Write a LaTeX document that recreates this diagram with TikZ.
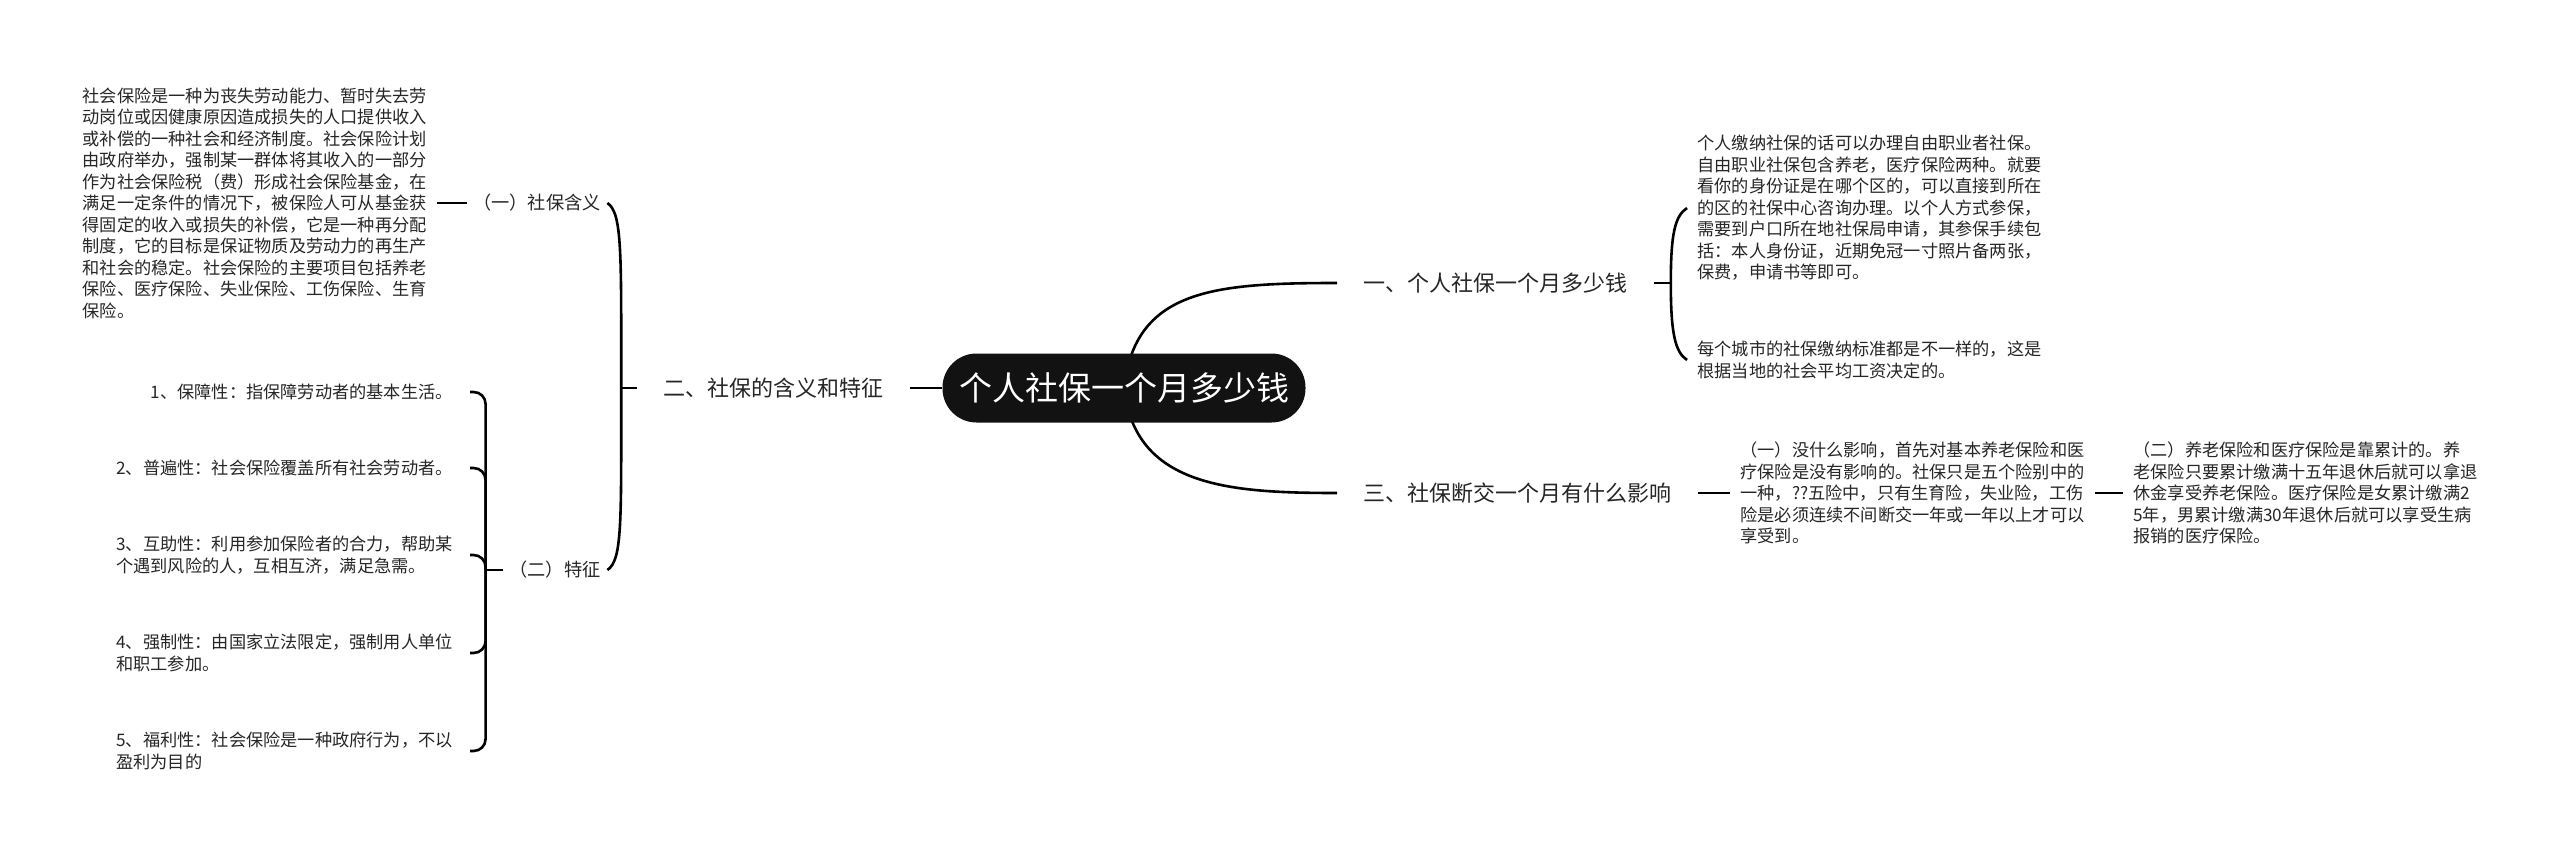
\documentclass[tikz,border=0pt]{standalone}
\usepackage{fontspec}
\setmainfont{Noto Sans CJK SC}
\usetikzlibrary{backgrounds}

\begin{document}
\begin{tikzpicture}[
  x=0.5pt, y=-0.5pt,
  every node/.style={inner sep=0pt, text=black!85},
  conn/.style={draw=black, line width=1.3pt},
  rootbox/.style={fill=black!93, text=white, rounded corners=17pt,
    minimum width=181.5pt, minimum height=34.5pt,
    font=\fontsize{16.5pt}{20pt}\selectfont},
  branchtxt/.style={inner xsep=13pt, inner ysep=4pt, font=\fontsize{11pt}{13pt}\selectfont},
  subtxt/.style={inner ysep=3pt, font=\fontsize{9.1pt}{11pt}\selectfont},
  parabox/.style={align=left, inner xsep=5pt, inner ysep=3pt, font=\fontsize{8.6pt}{10.75pt}\selectfont},
  itembox/.style={parabox, inner xsep=8.5pt}
]
\useasboundingbox (0,0) rectangle (2560,856);

% centre and the three branches
\node[rootbox] (root) at (1124,388) {个人社保一个月多少钱};
\node[branchtxt, anchor=east] (b2) at (910,388) {二、社保的含义和特征};
\node[branchtxt, anchor=west] (b1) at (1337,283) {一、个人社保一个月多少钱};
\node[branchtxt, anchor=west] (b3) at (1337,493) {三、社保断交一个月有什么影响};

% left side
\node[subtxt, minimum width=70pt] (s1) at (537,203) {（一）社保含义};
\node[subtxt, minimum width=52pt] (s2) at (555,570) {（二）特征};
\node[parabox, anchor=east] (d1) at (437,203) {社会保险是一种为丧失劳动能力、暂时失去劳\\
  动岗位或因健康原因造成损失的人口提供收入\\
  或补偿的一种社会和经济制度。社会保险计划\\
  由政府举办，强制某一群体将其收入的一部分\\
  作为社会保险税（费）形成社会保险基金，在\\
  满足一定条件的情况下，被保险人可从基金获\\
  得固定的收入或损失的补偿，它是一种再分配\\
  制度，它的目标是保证物质及劳动力的再生产\\
  和社会的稳定。社会保险的主要项目包括养老\\
  保险、医疗保险、失业保险、工伤保险、生育\\
  保险。};
\node[itembox, anchor=east] (t1) at (470,392) {1、保障性：指保障劳动者的基本生活。};
\node[itembox, anchor=east] (t2) at (470,468) {2、普遍性：社会保险覆盖所有社会劳动者。};
\node[itembox, anchor=east] (t3) at (470,555) {3、互助性：利用参加保险者的合力，帮助某\\个遇到风险的人，互相互济，满足急需。};
\node[itembox, anchor=east] (t4) at (470,653) {4、强制性：由国家立法限定，强制用人单位\\和职工参加。};
\node[itembox, anchor=east] (t5) at (470,751) {5、福利性：社会保险是一种政府行为，不以\\盈利为目的};

% right side
\node[parabox, anchor=west] (r1) at (1687,208) {个人缴纳社保的话可以办理自由职业者社保。\\
  自由职业社保包含养老，医疗保险两种。就要\\
  看你的身份证是在哪个区的，可以直接到所在\\
  的区的社保中心咨询办理。以个人方式参保，\\
  需要到户口所在地社保局申请，其参保手续包\\
  括：本人身份证，近期免冠一寸照片备两张，\\
  保费，申请书等即可。};
\node[parabox, anchor=west] (r2) at (1687,360) {每个城市的社保缴纳标准都是不一样的，这是\\
  根据当地的社会平均工资决定的。};
\node[parabox, anchor=west] (p1) at (1730,493) {（一）没什么影响，首先对基本养老保险和医\\
  疗保险是没有影响的。社保只是五个险别中的\\
  一种，??五险中，只有生育险，失业险，工伤\\
  险是必须连续不间断交一年或一年以上才可以\\
  享受到。};
\node[parabox, anchor=west] (p2) at (2123,493) {（二）养老保险和医疗保险是靠累计的。养\\
  老保险只要累计缴满十五年退休后就可以拿退\\
  休金享受养老保险。医疗保险是女累计缴满2\\
  5年，男累计缴满30年退休后就可以享受生病\\
  报销的医疗保险。};

% connectors
\begin{scope}[on background layer]
\fill[white] (0,0) rectangle (2560,856);
\draw[conn] (root.center) .. controls +(11,-98) and +(-125,0) .. (b1.west);
\draw[conn] (root.center) .. controls +(11,98) and +(-110,0) .. (b3.west);
\end{scope}
\draw[conn] (root.west) -- (b2.east);

\coordinate (j2) at ([xshift=-8pt]b2.west);
\draw[conn] (b2.west) -- (j2);
\draw[conn] (j2) .. controls +(0,-135) and +(15,10) .. (s1.east);
\draw[conn] (j2) .. controls +(0,135) and +(15,-10) .. (s2.east);
\draw[conn] (d1.east) -- (s1.west);

\coordinate (j3) at ([xshift=-8.5pt]s2.west);
\draw[conn] (s2.west) -- (j3);
\foreach \t in {t1,t2,t3,t4,t5}
  \draw[conn, rounded corners=6pt] (j3) |- (\t.east);

\coordinate (j1) at ([xshift=8.5pt]b1.east);
\draw[conn] (b1.east) -- (j1);
\draw[conn] (j1) .. controls +(0,-50) and +(-12,8) .. (r1.west);
\draw[conn] (j1) .. controls +(0,50) and +(-12,-8) .. (r2.west);

\draw[conn] (b3.east) -- (p1.west);
\draw[conn] (p1.east) -- (p2.west);
\end{tikzpicture}
\end{document}
